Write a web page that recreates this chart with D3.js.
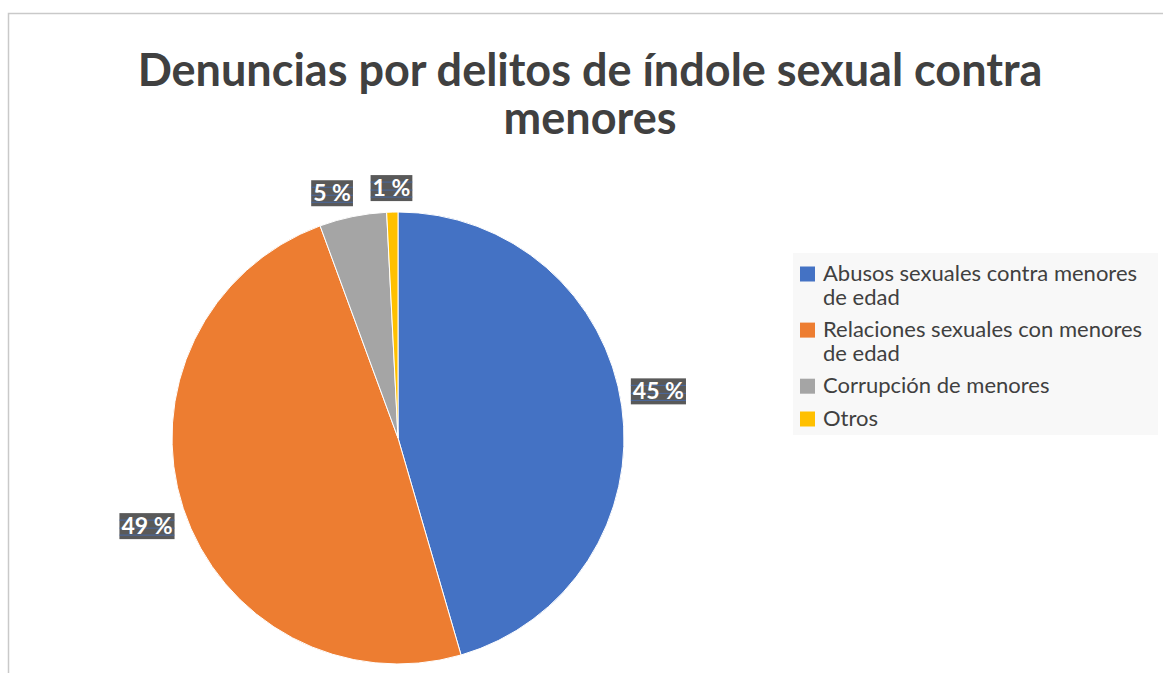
<!DOCTYPE html>
<html><head><meta charset="utf-8">
<script src="https://cdn.jsdelivr.net/npm/d3@7"></script>
<style>body{margin:0;background:#fff}svg{display:block}</style>
</head><body>
<svg id="c" width="1163" height="673"></svg>
<script>
const titleLines = ["Denuncias por delitos de índole sexual contra", "menores"];
const categories = ["Abusos sexuales contra menores de edad", "Relaciones sexuales con menores de edad", "Corrupción de menores", "Otros"];
const legendLines = [["Abusos sexuales contra menores", "de edad"], ["Relaciones sexuales con menores", "de edad"], ["Corrupción de menores"], ["Otros"]];
const values = [45.5, 48.9, 4.8, 0.8];
const labels = ["45 %", "49 %", "5 %", "1 %"];
const colors = ["#4472C4", "#ED7D31", "#A5A5A5", "#FFC000"];

const svg = d3.select("#c");
// chart border
svg.append("path").attr("d", "M8.5,673 V13.5 H1163").attr("fill", "none").attr("stroke", "#c9c9c9").attr("stroke-width", 1.5);

const title = svg.append("text")
  .attr("text-anchor", "middle")
  .attr("font-family", "Lato, 'Open Sans', sans-serif").attr("font-weight", "bold")
  .attr("font-size", 45).attr("fill", "#404040");
title.selectAll("tspan").data(titleLines).join("tspan")
  .attr("x", 590).attr("y", (d, i) => 86 + i * 47.5).text(d => d);

const cx = 398, cy = 438, R = 226;
const pie = d3.pie().sort(null).value(d => d);
const arcs = pie(values);
const arc = d3.arc().innerRadius(0).outerRadius(R);
const g = svg.append("g").attr("transform", `translate(${cx},${cy})`);
g.selectAll("path").data(arcs).join("path")
  .attr("d", arc).attr("fill", (d, i) => colors[i])
  .attr("stroke", "#fff").attr("stroke-width", 1);

// label placement: outside end, with small layout nudges (not data)
const labelNudge = [[3, -10], [-4, 7], [-14, 10], [0, 10]];
const labelArc = d3.arc().innerRadius(R + 34).outerRadius(R + 34);
const lg = g.selectAll("g.lbl").data(arcs).join("g").attr("class", "lbl")
  .attr("transform", (d, i) => { const c = labelArc.centroid(d); return `translate(${c[0] + labelNudge[i][0]},${c[1] + labelNudge[i][1]})`; });
lg.each(function(d, i) {
  const s = d3.select(this);
  const t = s.append("text").attr("text-anchor", "middle").attr("dy", "0.35em")
    .attr("font-family", "Lato, 'Open Sans', sans-serif").attr("font-weight", "bold")
    .attr("font-size", 23).attr("fill", "#fff").text(labels[i]);
  const bb = t.node().getBBox();
  s.insert("rect", "text").attr("x", bb.x - 2).attr("y", -13).attr("width", bb.width + 4).attr("height", 26).attr("fill", "#595959");
  [-6, 2, 9].forEach(yy => s.insert("line", "text").attr("x1", bb.x - 2).attr("x2", bb.x + bb.width + 2).attr("y1", yy).attr("y2", yy).attr("stroke", "#4472C4").attr("stroke-width", 1).attr("opacity", 0.7));
});

// legend
const lgx = 793, lgy = 253;
svg.append("rect").attr("x", lgx).attr("y", lgy).attr("width", 365).attr("height", 182).attr("fill", "#f8f8f8");
const lineH = 23.3;
let y = 273.5;
const leg = svg.append("g");
legendLines.forEach((lines, i) => {
  leg.append("rect").attr("x", 800).attr("y", y - 7).attr("width", 15).attr("height", 15).attr("fill", colors[i]);
  const t = leg.append("text")
    .attr("font-family", "Lato, 'Open Sans', sans-serif").attr("font-size", 22).attr("fill", "#404040");
  lines.forEach((ln, j) => {
    t.append("tspan").attr("x", 823).attr("y", y + j * lineH).attr("dy", "0.35em").text(ln);
  });
  y += lines.length * lineH + 9.5;
});
</script>
</body></html>
